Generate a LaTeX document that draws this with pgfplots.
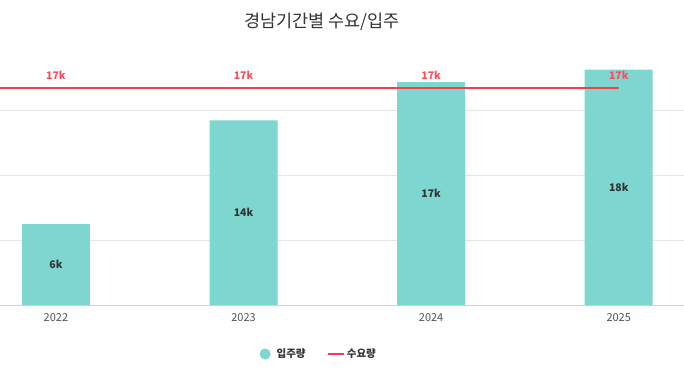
\documentclass[border=0pt]{standalone}
\usepackage{pgfplots}
\pgfplotsset{compat=1.18}
\usepackage{pgfplotstable}
\usepackage{fontspec}
\setmainfont{Noto Sans CJK KR}
\definecolor{barc}{HTML}{7DD6CF}
\definecolor{linec}{HTML}{F0404A}
\definecolor{labred}{HTML}{FF4B57}
\definecolor{txt}{HTML}{333333}
\definecolor{gridc}{HTML}{E6E6E6}
\definecolor{basec}{HTML}{C8D4EA}
\pgfplotstableread{
x y mid label
0 6230 3150 6k
1 14200 7150 14k
2 17150 8600 17k
3 18100 9070 18k
}\bars
\pgfplotstableread{
x y
-1 16700
0 16700
1 16700
2 16700
3 16700
}\demand
\pgfplotstableread{
x y label
0 16700 17k
1 16700 17k
2 16700 17k
3 16700 17k
}\demandlab
\begin{document}
\begin{tikzpicture}
\begin{axis}[
  at={(0pt,68pt)}, anchor=south west,
  scale only axis, width=684pt, height=260pt,
  xmin=-0.298, xmax=3.348, ymin=0, ymax=20000,
  axis x line*=bottom, axis y line*=left,
  x axis line style={basec, line width=0.8pt, -},
  y axis line style={draw=none},
  scaled y ticks=false,
  xtick={0,1,2,3}, xticklabels={2022,2023,2024,2025},
  major tick length=0pt,
  xticklabel style={font=\fontsize{11}{13}\selectfont, text=txt!85, yshift=-5pt},
  ytick={5000,10000,15000}, yticklabels={}, ymajorgrids,
  grid style={gridc, line width=0.8pt},
  legend style={at={(0.466,0)}, anchor=center, yshift=-49pt, draw=none,
    legend columns=2, font=\fontsize{10.5}{12}\selectfont\bfseries, text=txt,
    /tikz/every even column/.append style={column sep=20pt}},
  legend cell align=left,
]
\addplot[ybar, bar width=68pt, fill=barc, draw=none,
  legend image code/.code={\fill[barc] (0.05cm,0) circle (5.5pt);}]
  table[x=x,y=y] {\bars};
\addlegendentry{\hspace{4pt}입주량}
\addplot[linec, line width=1.6pt, no marks,
  legend image code/.code={\draw[linec, line width=1.6pt] (-0.05cm,0) -- (0.5cm,0);}]
  table[x=x,y=y] {\demand};
\addlegendentry{수요량}
\addplot[only marks, mark=none, forget plot, point meta=explicit symbolic,
  nodes near coords, nodes near coords align=center,
  every node near coord/.append style={font=\fontsize{10.5}{12}\selectfont\bfseries, text=txt, anchor=center}]
  table[x=x,y=mid,meta=label] {\bars};
\addplot[only marks, mark=none, forget plot, point meta=explicit symbolic,
  nodes near coords,
  every node near coord/.append style={font=\fontsize{10.5}{12}\selectfont\bfseries, text=labred, anchor=center, yshift=13pt}]
  table[x=x,y=y,meta=label] {\demandlab};
\end{axis}
\node[font=\fontsize{17.5}{20}\selectfont, text=txt] at (322pt,351pt) {경남기간별 수요/입주};
\pgfresetboundingbox
\path[use as bounding box] (0,0) rectangle (684pt,373pt);
\end{tikzpicture}
\end{document}
